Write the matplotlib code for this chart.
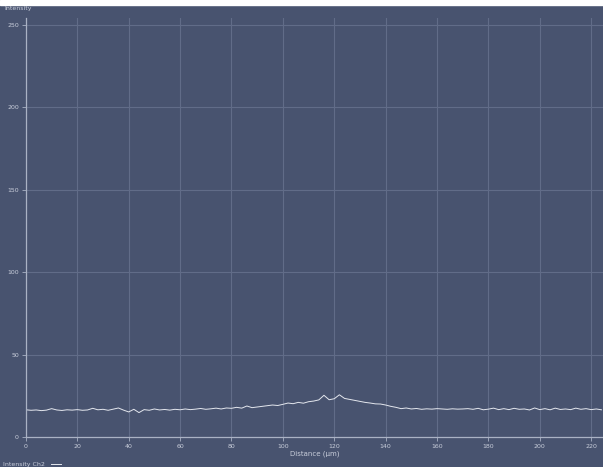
import matplotlib

matplotlib.use("Agg")
import matplotlib.pyplot as plt
from matplotlib.lines import Line2D

# intensity profile along the line, sampled every 2 µm
distance = list(range(0, 226, 2))
intensity = [
    16.5, 16.2, 16.4, 16.0, 16.3, 17.2, 16.4, 16.1, 16.5, 16.3,
    16.6, 16.2, 16.4, 17.4, 16.5, 16.8, 16.2, 16.9, 17.6, 16.3,
    15.2, 16.8, 14.8, 16.6, 16.2, 17.0, 16.4, 16.7, 16.3, 16.8,
    16.5, 17.0, 16.6, 16.9, 17.3, 16.8, 17.1, 17.5, 17.0, 17.6,
    17.4, 18.0, 17.5, 18.8, 17.8, 18.2, 18.6, 19.0, 19.4, 19.1,
    19.8, 20.6, 20.2, 21.0, 20.5, 21.4, 21.8, 22.5, 25.3, 22.6,
    23.2, 25.6, 23.4, 22.8, 22.2, 21.6, 21.0, 20.6, 20.1, 20.0,
    19.4, 18.6, 18.0, 17.2, 17.6, 17.0, 17.3, 16.8, 17.1, 16.9,
    17.2, 17.0, 16.8, 17.1, 16.9, 17.0, 17.2, 16.8, 17.4, 16.5,
    16.9, 17.5, 16.6, 17.2, 16.6, 17.4, 16.8, 17.0, 16.4, 17.6,
    16.6, 17.2, 16.5, 17.5, 16.7, 17.0, 16.6, 17.5, 16.8, 17.2,
    16.6, 17.0, 16.5,
]
x_ticks = [0, 20, 40, 60, 80, 100, 120, 140, 160, 180, 200, 220]
y_ticks = [0, 50, 100, 150, 200, 250]

bg = "#48536f"
txt = "#c9cedb"
grid = "#616c88"

fig = plt.figure(figsize=(6.03, 4.67), dpi=100, facecolor=bg)
ax = fig.add_axes([0.043, 0.0642, 0.957, 0.8973])
ax.set_facecolor(bg)

ax.plot(distance, intensity, color="#e4e7ee", linewidth=0.7)

ax.set_xlim(0, 224.6)
ax.set_ylim(0, 254)
ax.set_xticks(x_ticks)
ax.set_yticks(y_ticks)
ax.grid(True, color=grid, linewidth=0.8)
ax.set_axisbelow(True)

for side in ["top", "right"]:
    ax.spines[side].set_visible(False)
for side in ["left", "bottom"]:
    ax.spines[side].set_color("#aab2c4")
    ax.spines[side].set_linewidth(0.9)

ax.tick_params(colors="#aab2c4", labelcolor=txt, labelsize=4.5, length=3, width=0.6, pad=2)
ax.set_xlabel("Distance (µm)", color=txt, fontsize=5, labelpad=1)

fig.text(0.007, 0.982, "Intensity", color=txt, fontsize=4.5, va="center", ha="left")

handle = Line2D([], [], color="#e4e7ee", linewidth=0.7)
fig.legend([handle], ["Intensity Ch2"], loc="lower left", bbox_to_anchor=(-0.005, -0.012),
           frameon=False, fontsize=4.5, labelcolor=txt, handlelength=1.6,
           handletextpad=1.0, markerfirst=False)

# white strip at the very top of the exported image
fig.patches.append(plt.Rectangle((0, 0.99), 1, 0.01, transform=fig.transFigure,
                                 color="white", zorder=10))

fig.savefig("out.png", dpi=100, facecolor=bg)
